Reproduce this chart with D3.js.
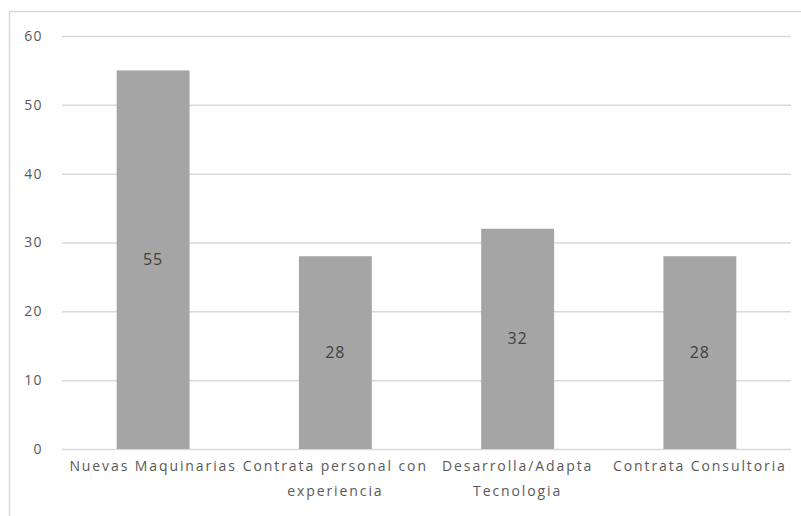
<!DOCTYPE html>
<html>
<head>
<meta charset="utf-8">
<script src="https://cdn.jsdelivr.net/npm/d3@7"></script>
<style>
  html, body { margin: 0; padding: 0; background: #fff; }
  svg { display: block; font-family: "Open Sans", Lato, sans-serif; }
</style>
</head>
<body>
<svg id="chart" width="801" height="516"></svg>
<script>
// Categories (each label split into its displayed lines) and values
const categories = ["Nuevas Maquinarias", "Contrata personal con experiencia", "Desarrolla/Adapta Tecnologia", "Contrata Consultoria"];
const labelLines = [["Nuevas Maquinarias"], ["Contrata personal con", "experiencia"], ["Desarrolla/Adapta", "Tecnologia"], ["Contrata Consultoria"]];
const values = [55, 28, 32, 28];
const yTicks = [0, 10, 20, 30, 40, 50, 60];

const svg = d3.select("#chart");
const W = 801, H = 516;
const plot = { left: 62, right: 791, top: 36, bottom: 449 };

// Chart frame
svg.append("rect")
  .attr("x", 9.5).attr("y", 11.5)
  .attr("width", W + 10).attr("height", H + 10)
  .attr("fill", "#fff").attr("stroke", "#d9d9d9").attr("stroke-width", 1.5);

const x = d3.scaleBand()
  .domain(categories)
  .range([plot.left, plot.right])
  .paddingInner(0.6)
  .paddingOuter(0.3);

const y = d3.scaleLinear()
  .domain([0, 60])
  .range([plot.bottom, plot.top]);

// Horizontal gridlines with value labels
const yAxis = d3.axisLeft(y)
  .tickValues(yTicks)
  .tickSize(-(plot.right - plot.left))
  .tickPadding(19);

const gy = svg.append("g")
  .attr("transform", `translate(${plot.left},0)`)
  .call(yAxis);
gy.select(".domain").remove();
gy.selectAll(".tick line").attr("stroke", "#d9d9d9").attr("stroke-width", 1.5);
gy.selectAll(".tick text")
  .attr("fill", "#595959")
  .style("font-family", "'Open Sans', sans-serif")
  .style("font-size", "14px")
  .style("letter-spacing", "1.4px");

// Bars
svg.append("g").selectAll("rect")
  .data(values)
  .join("rect")
  .attr("x", (d, i) => x(categories[i]))
  .attr("y", d => y(d))
  .attr("width", x.bandwidth())
  .attr("height", d => y(0) - y(d))
  .attr("fill", "#a5a5a5");

// Value labels centred inside bars
svg.append("g").selectAll("text")
  .data(values)
  .join("text")
  .attr("x", (d, i) => x(categories[i]) + x.bandwidth() / 2)
  .attr("y", d => (y(d) + y(0)) / 2)
  .attr("dy", "0.35em")
  .attr("text-anchor", "middle")
  .attr("fill", "#404040")
  .style("font-size", "16px")
  .style("letter-spacing", "1px")
  .text(d => d);

// Category axis labels
const gx = svg.append("g")
  .attr("transform", `translate(0,${plot.bottom})`)
  .call(d3.axisBottom(x).tickSize(0).tickFormat(() => ""));
gx.select(".domain").remove();

svg.append("g").selectAll("text")
  .data(categories)
  .join("text")
  .attr("x", d => x(d) + x.bandwidth() / 2)
  .attr("y", plot.bottom + 22)
  .attr("text-anchor", "middle")
  .attr("fill", "#595959")
  .style("font-size", "14px")
  .style("letter-spacing", "1.9px")
  .each(function(d, i) {
    const t = d3.select(this);
    labelLines[i].forEach((line, k) => {
      t.append("tspan")
        .attr("x", x(d) + x.bandwidth() / 2)
        .attr("dy", k === 0 ? 0 : 25)
        .text(line);
    });
  });
</script>
</body>
</html>
